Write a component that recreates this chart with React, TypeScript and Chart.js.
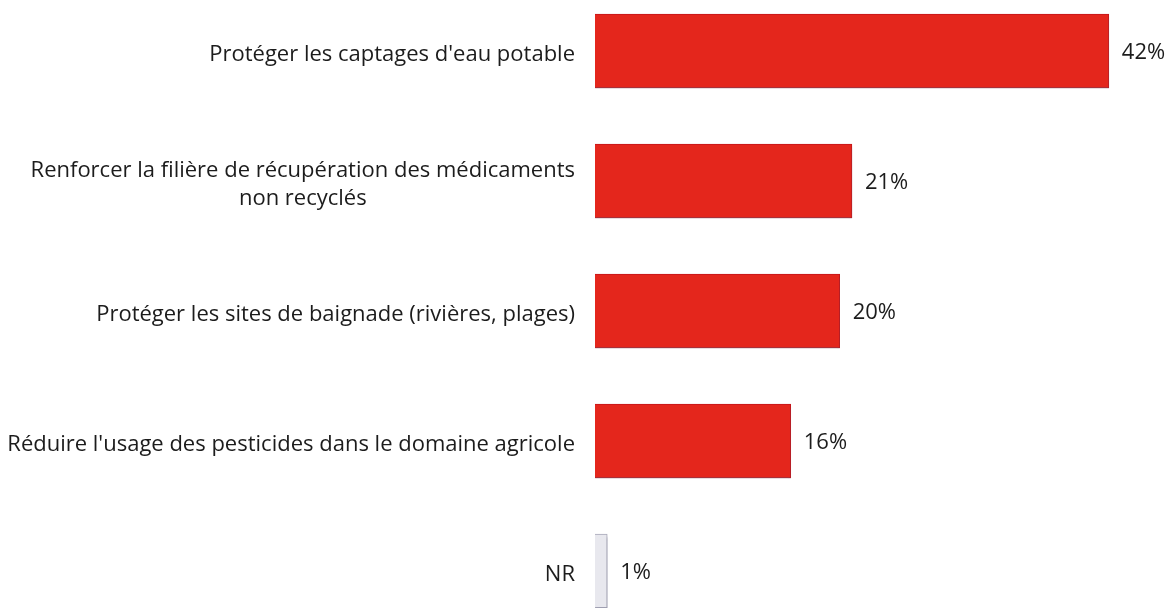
import React, { useEffect, useRef } from "react";
import { Chart, registerables } from "chart.js";

Chart.register(...registerables);

const categories: string[][] = [
  ["Protéger les captages d'eau potable"],
  ["Renforcer la filière de récupération des médicaments", "non recyclés"],
  ["Protéger les sites de baignade (rivières, plages)"],
  ["Réduire l'usage des pesticides dans le domaine agricole"],
  ["NR"],
];
const values: number[] = [42, 21, 20, 16, 1];
const valueLabels: string[] = ["42%", "21%", "20%", "16%", "1%"];

const FONT = "22px 'Open Sans', Lato, sans-serif";
const TEXT = "#1c1c1c";

const labelPlugin = {
  id: "customLabels",
  beforeDatasetsDraw(chart: any) {
    const ctx = chart.ctx;
    ctx.save();
    ctx.shadowColor = "rgba(90,90,120,0.45)";
    ctx.shadowOffsetY = 3;
    ctx.shadowOffsetX = 0;
    ctx.shadowBlur = 2;
  },
  afterDatasetsDraw(chart: any) {
    const ctx = chart.ctx;
    ctx.restore();
    const meta = chart.getDatasetMeta(0);
    const yScale = chart.scales.y;
    ctx.save();
    ctx.font = FONT;
    ctx.fillStyle = TEXT;
    ctx.textBaseline = "middle";
    const lineH = 28;
    categories.forEach((lines, i) => {
      const cy = yScale.getPixelForValue(i);
      const right = chart.chartArea.left - 20;
      const widths = lines.map((l) => ctx.measureText(l).width);
      const maxW = Math.max(...widths);
      const cx = right - maxW / 2;
      ctx.textAlign = "center";
      const startY = cy + 4 - ((lines.length - 1) * lineH) / 2;
      lines.forEach((l, k) => ctx.fillText(l, cx, startY + k * lineH));
      const bar = meta.data[i];
      ctx.textAlign = "left";
      ctx.fillText(valueLabels[i], bar.x + 13, cy + 2);
    });
    ctx.restore();
  },
};

export default function App() {
  const ref = useRef<HTMLCanvasElement | null>(null);
  useEffect(() => {
    if (!ref.current) return;
    const chart = new Chart(ref.current, {
      type: "bar",
      data: {
        labels: categories.map((c) => c.join(" ")),
        datasets: [
          {
            data: values,
            backgroundColor: values.map((_, i) => (i === 4 ? "#E8E8EE" : "#E4261C")),
            borderColor: values.map((_, i) => (i === 4 ? "#A9A9B8" : "#C4161A")),
            borderWidth: 1,
            barThickness: 74,
          },
        ],
      },
      options: {
        indexAxis: "y",
        animation: false,
        responsive: true,
        maintainAspectRatio: false,
        layout: { padding: { left: 595, right: 1, top: 0, bottom: 0 } },
        plugins: { legend: { display: false }, tooltip: { enabled: false } },
        scales: {
          x: { display: false, min: 0, max: 47 },
          y: { display: false, grid: { display: false } },
        },
      },
      plugins: [labelPlugin],
    });
    return () => chart.destroy();
  }, []);
  return (
    <div style={{ position: "fixed", left: 0, top: 0, width: 1171, height: 608, overflow: "hidden", background: "#fff" }}>
      <div style={{ position: "absolute", left: 0, top: -14, width: 1171, height: 650 }}>
        <canvas ref={ref} />
      </div>
    </div>
  );
}
